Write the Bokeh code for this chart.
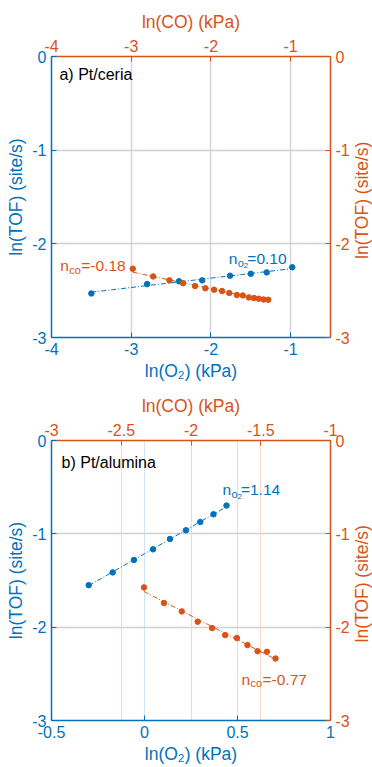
import math
import numpy as np
from bokeh.plotting import figure
from bokeh.layouts import column, row
from bokeh.models import Range1d, LinearAxis, FixedTicker, Grid, Label
from bokeh.core.properties import value
from bokeh.embed import file_html
from bokeh.resources import INLINE

BLUE = "#0072BD"
ORANGE = "#D95319"
FONT = "Liberation Sans"

# ---- data: Pt/ceria ----
ceria_o2_x = [-3.50, -2.80, -2.40, -2.11, -1.76, -1.50, -1.30, -0.98]
ceria_o2_y = [-2.53, -2.43, -2.40, -2.39, -2.34, -2.32, -2.305, -2.25]
ceria_co_x = [-2.98, -2.725, -2.52, -2.35, -2.20, -2.07, -1.96, -1.86,
              -1.77, -1.675, -1.60, -1.525, -1.46, -1.40, -1.34, -1.28]
ceria_co_y = [-2.266, -2.348, -2.39, -2.42, -2.45, -2.474, -2.49, -2.504,
              -2.525, -2.547, -2.551, -2.572, -2.579, -2.586, -2.594, -2.597]
ceria_n_o2 = 0.10
ceria_n_co = -0.18

# ---- data: Pt/alumina ----
alumina_o2_x = [-0.30, -0.171, -0.057, 0.046, 0.137, 0.223, 0.30, 0.371, 0.441]
alumina_o2_y = [-1.55, -1.413, -1.28, -1.166, -1.055, -0.962, -0.873, -0.79, -0.697]
alumina_co_x = [-2.337, -2.194, -2.066, -1.952, -1.849, -1.755, -1.671, -1.595,
                -1.523, -1.456, -1.394]
alumina_co_y = [-1.574, -1.741, -1.831, -1.942, -2.010, -2.085, -2.117, -2.192,
                -2.257, -2.264, -2.336]
alumina_n_o2 = 1.14
alumina_n_co = -0.77

# ---- axis settings ----
tof_ticks = [0, -1, -2, -3]
ceria_o2_ticks = [-4, -3, -2, -1]
ceria_co_ticks = [-4, -3, -2, -1]
alumina_o2_ticks = [-0.5, 0, 0.5, 1]
alumina_co_ticks = [-3, -2.5, -2, -1.5, -1]
TOF_LABEL = "ln(TOF) (site/s)"

SIDE_W = 20          # strip holding the right-hand axis title
BORDER_TOP = 56
BORDER_BOTTOM = 47


def fmt(v):
    return ("%g" % v)


def style_axis(ax, ticks, color, label):
    ax.ticker = FixedTicker(ticks=ticks)
    ax.major_label_overrides = {t: fmt(t) for t in ticks}
    ax.axis_label = label
    ax.axis_label_text_font = FONT
    ax.axis_label_text_font_size = "17.5px"
    ax.axis_label_text_font_style = "normal"
    ax.axis_label_text_color = color
    ax.axis_label_standoff = 3
    ax.major_label_text_font = FONT
    ax.major_label_text_font_size = "16px"
    ax.major_label_text_color = color
    ax.major_label_standoff = 5
    ax.axis_line_color = color
    ax.axis_line_width = 1.5
    ax.major_tick_line_color = color
    ax.major_tick_in = 5
    ax.major_tick_out = 0
    ax.minor_tick_line_color = None


def fit_line(xs, ys, slope):
    xs = np.asarray(xs)
    ys = np.asarray(ys)
    b = ys.mean() - slope * xs.mean()
    xl = np.array([xs.min(), xs.max()])
    return xl, slope * xl + b


def n_label(p, x, y, sub, sub2, rest, color):
    kw = dict(x=x, y=y, text_font=FONT, text_color=color,
              text_baseline="alphabetic")
    p.add_layout(Label(text="n", text_font_size="15.5px", **kw))
    p.add_layout(Label(text=sub, text_font_size="11px", x_offset=9,
                       y_offset=-4, **kw))
    if sub2:
        p.add_layout(Label(text=sub2, text_font_size="8px", x_offset=15,
                           y_offset=-7, **kw))
        p.add_layout(Label(text=rest, text_font_size="15.5px", x_offset=18.5, **kw))
    else:
        p.add_layout(Label(text=rest, text_font_size="15.5px", x_offset=21, **kw))


def make_panel(height, xr, top_r, o2_ticks, co_ticks):
    p = figure(width=372 - SIDE_W, height=height, x_range=Range1d(*xr),
               y_range=Range1d(-3, 0), output_backend="svg",
               toolbar_location=None, min_border_left=51,
               min_border_right=42 - SIDE_W, min_border_top=BORDER_TOP,
               min_border_bottom=BORDER_BOTTOM)
    p.extra_x_ranges = {"top": Range1d(*top_r)}
    p.extra_y_ranges = {"right": Range1d(-3, 0)}
    p.outline_line_color = None
    p.background_fill_color = "white"
    p.border_fill_color = "white"
    style_axis(p.xaxis[0], o2_ticks, BLUE, "ln(O\u2082) (kPa)")
    style_axis(p.yaxis[0], tof_ticks, BLUE, TOF_LABEL)
    top = LinearAxis(x_range_name="top")
    style_axis(top, co_ticks, ORANGE, "ln(CO) (kPa)")
    top.axis_label_standoff = 5
    p.add_layout(top, "above")
    right = LinearAxis(y_range_name="right")
    style_axis(right, tof_ticks, ORANGE, None)
    p.add_layout(right, "right")
    p.ygrid.ticker = FixedTicker(ticks=[-1, -2])
    p.ygrid.grid_line_color = "#d4d0d2"
    p.ygrid.grid_line_width = 1.5
    return p


def side_title(height):
    # narrow strip with the orange axis title, reading bottom-to-top
    s = figure(width=SIDE_W, height=height, x_range=Range1d(0, SIDE_W),
               y_range=Range1d(0, height), output_backend="svg",
               toolbar_location=None, x_axis_location=None,
               y_axis_location=None, min_border=0)
    s.outline_line_color = None
    s.grid.visible = False
    frame_mid = height - BORDER_TOP - (height - BORDER_TOP - BORDER_BOTTOM) / 2
    s.text(x=[SIDE_W / 2 - 0.5], y=[frame_mid], text=[TOF_LABEL], angle=math.pi / 2,
           text_align="center", text_baseline="middle",
           text_font=value(FONT), text_font_size="17.5px", text_color=ORANGE)
    return s


# ---- panel a: Pt/ceria ----
pa = make_panel(384, (-4, -0.5), (-4, -0.5), ceria_o2_ticks, ceria_co_ticks)
pa.xgrid.ticker = FixedTicker(ticks=[-3, -2, -1])
pa.xgrid.grid_line_color = "#d8d3d5"
pa.xgrid.grid_line_width = 1.5

lx, ly = fit_line(ceria_o2_x, ceria_o2_y, ceria_n_o2)
pa.line(lx, ly, line_color=BLUE, line_width=1, line_dash="5 2 1 2")
pa.scatter(ceria_o2_x, ceria_o2_y, size=5.5, color=BLUE)
lx, ly = fit_line(ceria_co_x, ceria_co_y, ceria_n_co)
pa.line(lx, ly, line_color=ORANGE, line_width=1, line_dash="5 2 1 2",
        x_range_name="top")
pa.scatter(ceria_co_x, ceria_co_y, size=5.5, color=ORANGE, x_range_name="top")

pa.add_layout(Label(x=-3.9, y=-0.192, text="a) Pt/ceria", text_font=FONT,
                    text_font_size="16px", text_color="black",
                    text_baseline="alphabetic"))
n_label(pa, -1.775, -2.159, "o", "2", "=%.2f" % ceria_n_o2, BLUE)
n_label(pa, -3.89, -2.234, "co", None, "=%.2f" % ceria_n_co, ORANGE)

# ---- panel b: Pt/alumina ----
pb = make_panel(383, (-0.5, 1), (-3, -1), alumina_o2_ticks, alumina_co_ticks)
pb.xgrid.ticker = FixedTicker(ticks=[0, 0.5])
pb.xgrid.grid_line_color = "#d3e6f4"
pb.xgrid.grid_line_width = 1.2
co_grid = Grid(dimension=0, ticker=FixedTicker(ticks=[-2.5, -2, -1.5]),
               x_range_name="top", grid_line_color="#f8d8ca",
               grid_line_width=1.2)
pb.add_layout(co_grid)

lx, ly = fit_line(alumina_o2_x, alumina_o2_y, alumina_n_o2)
pb.line(lx, ly, line_color=BLUE, line_width=1, line_dash="5 2 1 2")
pb.scatter(alumina_o2_x, alumina_o2_y, size=5.5, color=BLUE)
lx, ly = fit_line(alumina_co_x, alumina_co_y, alumina_n_co)
pb.line(lx, ly, line_color=ORANGE, line_width=1, line_dash="5 2 1 2",
        x_range_name="top")
pb.scatter(alumina_co_x, alumina_co_y, size=5.5, color=ORANGE,
           x_range_name="top")

pb.add_layout(Label(x=-0.446, y=-0.233, text="b) Pt/alumina", text_font=FONT,
                    text_font_size="16px", text_color="black",
                    text_baseline="alphabetic"))
n_label(pb, 0.419, -0.526, "o", "2", "=%.2f" % alumina_n_o2, BLUE)
n_label(pb, 0.5215, -2.557, "co", None, "=%.2f" % alumina_n_co, ORANGE)

layout = column(row(pa, side_title(384), spacing=0),
                row(pb, side_title(383), spacing=0), spacing=0)
open("out.html", "w").write(file_html(layout, INLINE))
